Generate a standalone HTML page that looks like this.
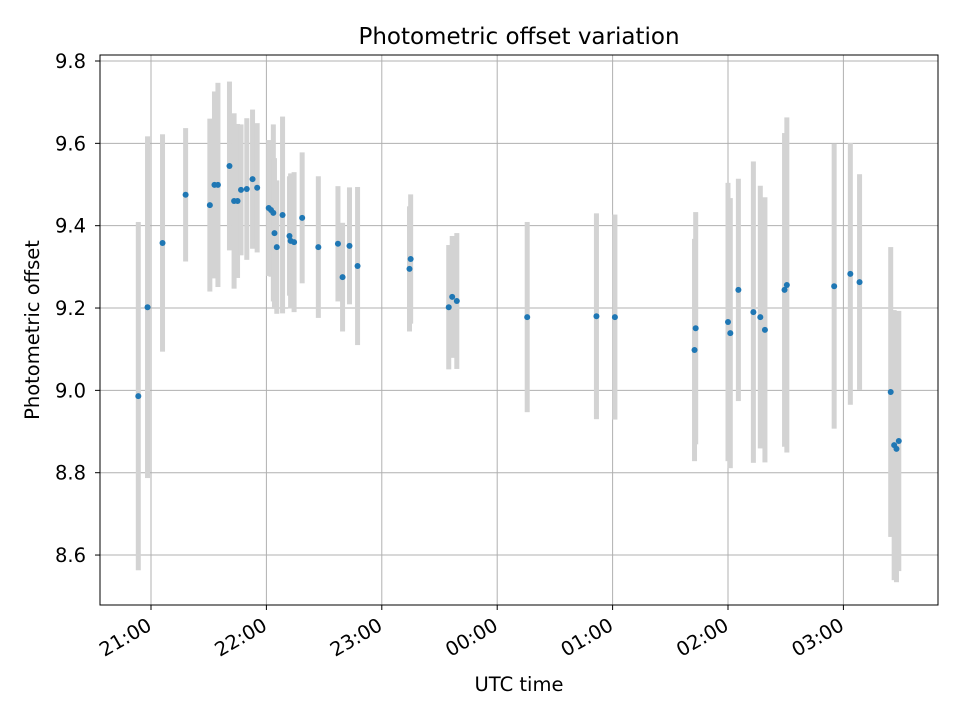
<!DOCTYPE html>
<html><head><meta charset="utf-8"><style>
body{margin:0;background:#fff;}
svg text{font-family:"DejaVu Sans","Liberation Sans",sans-serif;fill:#000;}
</style></head><body>
<svg id="chart" width="960" height="720" xmlns="http://www.w3.org/2000/svg">
<rect width="960" height="720" fill="#fff"/>
<g id="grid"></g>
<g id="bars"></g>
<g id="pts"></g>
<rect x="100" y="55" width="838" height="550" fill="none" stroke="#000" stroke-width="1"/>
<g id="ticks"></g>
<text x="519" y="44" font-size="23" text-anchor="middle">Photometric offset variation</text>
<text x="519" y="691" font-size="19.5" text-anchor="middle">UTC time</text>
<text x="39" y="330" font-size="19.5" text-anchor="middle" transform="rotate(-90 39 330)">Photometric offset</text>
</svg>
<script>
const times=[20.89,20.97,21.10,21.30,21.51,21.55,21.58,21.68,21.72,21.75,21.78,21.83,21.88,21.92,22.02,22.04,22.06,22.07,22.09,22.14,22.20,22.21,22.24,22.31,22.45,22.62,22.66,22.72,22.79,23.24,23.25,23.58,23.61,23.65,24.26,24.86,25.02,25.71,25.72,26.00,26.02,26.09,26.22,26.28,26.32,26.49,26.51,26.92,27.06,27.14,27.41,27.44,27.46,27.48];
const offsets=[8.986,9.202,9.358,9.475,9.450,9.499,9.499,9.545,9.460,9.460,9.487,9.489,9.513,9.492,9.443,9.438,9.431,9.382,9.348,9.426,9.375,9.363,9.360,9.419,9.348,9.356,9.275,9.351,9.302,9.295,9.319,9.202,9.227,9.217,9.178,9.180,9.178,9.098,9.151,9.166,9.139,9.244,9.190,9.178,9.147,9.244,9.256,9.253,9.283,9.263,8.996,8.867,8.858,8.877];
const errors=[0.423,0.415,0.264,0.162,0.210,0.227,0.248,0.205,0.213,0.187,0.159,0.172,0.169,0.157,0.165,0.162,0.215,0.182,0.162,0.239,0.145,0.164,0.170,0.159,0.172,0.140,0.132,0.142,0.192,0.152,0.157,0.151,0.148,0.165,0.231,0.250,0.249,0.270,0.282,0.338,0.328,0.270,0.366,0.319,0.322,0.381,0.407,0.346,0.318,0.262,0.352,0.328,0.324,0.316];
const yTicks=[8.6,8.8,9.0,9.2,9.4,9.6,9.8];
const xTickHours=[21,22,23,24,25,26,27];
const xTickLabels=["21:00","22:00","23:00","00:00","01:00","02:00","03:00"];
const NS="http://www.w3.org/2000/svg";
function X(h){return 151+(h-21)*115.4;}
function Y(v){return 61+(9.8-v)*411.7;}
function mk(tag,attrs,parent){const e=document.createElementNS(NS,tag);for(const k in attrs)e.setAttribute(k,attrs[k]);document.getElementById(parent).appendChild(e);return e;}
yTicks.forEach(v=>{
  const g=mk('line',{x1:100,x2:938,y1:Y(v),y2:Y(v),stroke:'#b0b0b0','stroke-width':1},'grid');
  
  
  const t=mk('line',{x1:95,x2:100,y1:Y(v),y2:Y(v),stroke:'#000'},'ticks');
  
  
  const l=mk('text',{x:86,y:Y(v)+7,'font-size':19.5,'text-anchor':'end'},'ticks');
  l.textContent=v.toFixed(1);
  
  
});
xTickHours.forEach((h,i)=>{
  const g=mk('line',{x1:X(h),x2:X(h),y1:55,y2:605,stroke:'#b0b0b0','stroke-width':1},'grid');
  
  
  const t=mk('line',{x1:X(h),x2:X(h),y1:605,y2:610,stroke:'#000'},'ticks');
  
  
  const tx=X(h)+2,ty=629;
  const l=mk('text',{x:tx,y:ty,'font-size':19.5,'text-anchor':'end',transform:`rotate(-30 ${tx} ${ty})`},'ticks');
  l.textContent=xTickLabels[i];
  
  
});
times.forEach((h,i)=>{
  const b=mk('rect',{x:X(h)-2.5,y:Y(offsets[i]+errors[i]),width:5,height:Y(offsets[i]-errors[i])-Y(offsets[i]+errors[i]),fill:'#d3d3d3'},'bars');
  
  
});
times.forEach((h,i)=>{
  const c=mk('circle',{cx:X(h),cy:Y(offsets[i]),r:3,fill:'#1f77b4'},'pts');
  
  
});
</script>
</body></html>
